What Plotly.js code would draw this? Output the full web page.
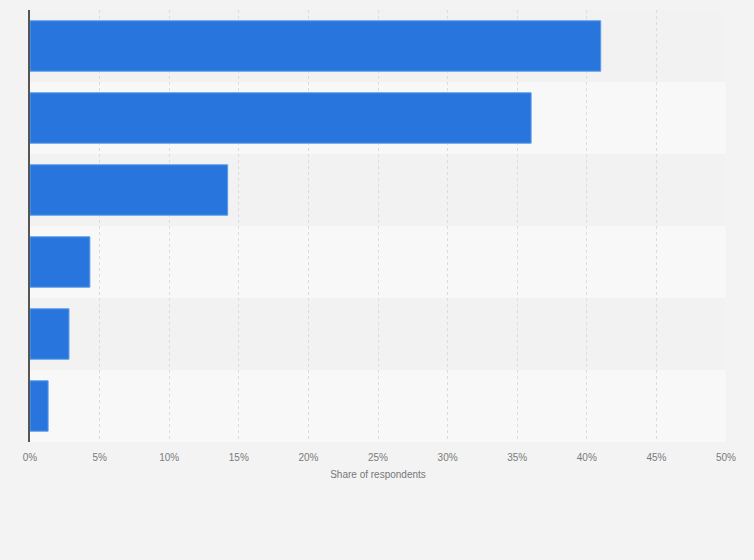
<!DOCTYPE html>
<html>
<head>
<meta charset="utf-8">
<script src="https://cdn.plot.ly/plotly-3.0.1.min.js"></script>
<style>
  html, body { margin: 0; padding: 0; background: #f3f3f3; }
  #chart { width: 754px; height: 560px; }
</style>
</head>
<body>
<div id="chart"></div>
<script>
// Categories are not labelled in the picture, so plain placeholders
const categories = ['Answer 1', 'Answer 2', 'Answer 3', 'Answer 4', 'Answer 5', 'Answer 6'];
// Share of respondents in percent
const shares = [41, 36, 14.2, 4.3, 2.8, 1.3];
const tickValues = [0, 5, 10, 15, 20, 25, 30, 35, 40, 45, 50];
const tickLabels = ['0%', '5%', '10%', '15%', '20%', '25%', '30%', '35%', '40%', '45%', '50%'];

// Alternating row bands behind the bars
let bands = [];
for (let i = 0; i < categories.length; i++) {
  bands.push({
    type: 'rect',
    layer: 'below',
    xref: 'paper', x0: 0, x1: 1,
    yref: 'y', y0: i - 0.5, y1: i + 0.5,
    fillcolor: (i % 2 == 0) ? '#f2f2f2' : '#f8f8f8',
    line: {width: 0}
  });
}

let data = [{
  type: 'bar',
  orientation: 'h',
  x: shares,
  y: categories,
  marker: {color: '#2876dd', line: {color: '#5a9be8', width: 1}},
  hoverinfo: 'x'
}];

let layout = {
  width: 754,
  height: 560,
  margin: {l: 30, r: 28, t: 10, b: 118},
  paper_bgcolor: '#f3f3f3',
  plot_bgcolor: '#f3f3f3',
  bargap: 0.3,
  showlegend: false,
  font: {family: 'Liberation Sans, Arial, sans-serif', color: '#777777'},
  shapes: bands,
  xaxis: {
    range: [0, 50],
    tickvals: tickValues,
    ticktext: tickLabels,
    tickfont: {size: 10, color: '#7a7a7a'},
    ticklabelstandoff: 8,
    showgrid: true,
    gridcolor: '#dcdcdc',
    griddash: 'dot',
    gridwidth: 1,
    zeroline: false,
    showline: false,
    ticks: '',
    ticklen: 0,
    layer: 'below traces',
    title: {text: 'Share of respondents', font: {size: 10, color: '#777777'}, standoff: 8}
  },
  yaxis: {
    autorange: 'reversed',
    showticklabels: false,
    showgrid: false,
    zeroline: false,
    showline: true,
    linecolor: '#555555',
    linewidth: 1.5,
    ticks: ''
  }
};

Plotly.newPlot('chart', data, layout, {displayModeBar: false});
</script>
</body>
</html>
